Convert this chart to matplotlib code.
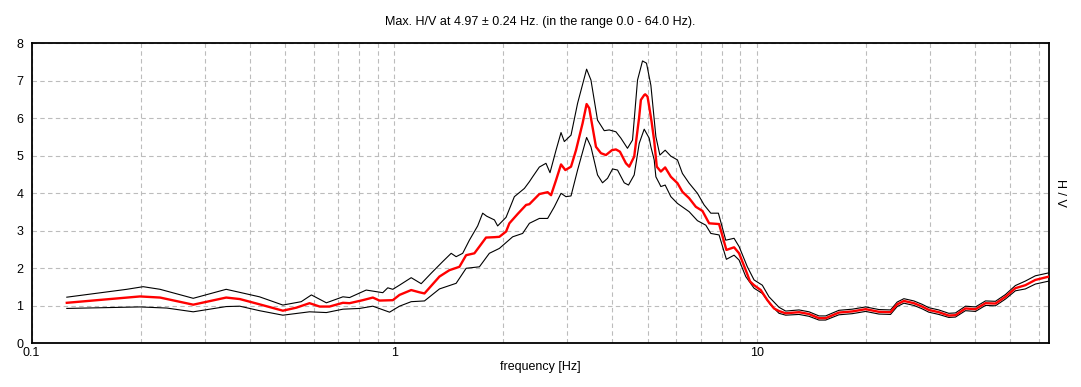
import matplotlib
matplotlib.use("Agg")
import matplotlib.pyplot as plt
from matplotlib.ticker import LogLocator, FixedLocator, FixedFormatter, NullFormatter

plt.rcParams['font.family'] = ['Liberation Sans', 'DejaVu Sans']

title = "Max. H/V at 4.97 \u00b1 0.24 Hz. (in the range 0.0 - 64.0 Hz)."
xlabel = "frequency [Hz]"
ylabel = "H / V"
x_ticks = [0.1, 1, 10]
x_tick_labels = ["0.1", "1", "10"]
y_ticks = [0, 1, 2, 3, 4, 5, 6, 7, 8]

# high-frequency shared grid
f_high = [11.52, 12.02, 13.08, 13.94, 14.85, 15.49, 16.85, 18.34, 19.97, 21.73, 23.39, 24.40,
          25.46, 27.13, 28.59, 29.83, 31.78, 33.86, 35.33, 37.65, 40.12, 42.75, 45.54, 48.53,
          51.69, 55.08, 58.68, 64.0]

# mean H/V (red)
f_mean = [0.125, 0.199, 0.226, 0.279, 0.344, 0.375, 0.425, 0.493, 0.537, 0.584, 0.623, 0.663,
          0.722, 0.753, 0.819, 0.873, 0.911, 0.991, 1.034, 1.114, 1.174, 1.212, 1.333, 1.420,
          1.513, 1.579, 1.664, 1.718, 1.792, 1.890, 1.950, 2.035, 2.078, 2.191, 2.311, 2.360,
          2.514, 2.650, 2.708, 2.795, 2.885, 2.965, 3.074, 3.173, 3.309, 3.394, 3.451, 3.602,
          3.718, 3.837, 3.986, 4.089, 4.194, 4.357, 4.449, 4.592, 4.740, 4.791, 4.893, 4.925,
          4.997, 5.051, 5.13, 5.214, 5.30, 5.439, 5.590, 5.796, 6.044, 6.237, 6.509, 6.792,
          7.083, 7.390, 7.873, 8.247, 8.659, 8.939, 9.326, 9.583, 9.831, 10.26, 10.70, 11.16] + f_high
hv_mean = [1.08, 1.25, 1.22, 1.03, 1.22, 1.18, 1.04, 0.87, 0.95, 1.07, 0.98, 0.98,
           1.08, 1.07, 1.15, 1.22, 1.14, 1.15, 1.29, 1.42, 1.36, 1.33, 1.78, 1.95,
           2.04, 2.35, 2.40, 2.58, 2.82, 2.83, 2.84, 2.98, 3.20, 3.45, 3.69, 3.71,
           3.98, 4.03, 3.95, 4.35, 4.77, 4.62, 4.71, 5.15, 5.87, 6.38, 6.27, 5.24,
           5.07, 5.02, 5.15, 5.17, 5.11, 4.80, 4.71, 4.98, 6.04, 6.49, 6.62, 6.64,
           6.58, 6.31, 5.90, 5.40, 4.71, 4.58, 4.69, 4.44, 4.27, 4.04, 3.87, 3.64,
           3.53, 3.20, 3.18, 2.49, 2.56, 2.40, 1.95, 1.65, 1.55, 1.42, 1.15, 0.93,
           0.86, 0.80, 0.83, 0.78, 0.67, 0.67, 0.82, 0.85, 0.91, 0.84, 0.83, 1.04,
           1.13, 1.07, 0.98, 0.89, 0.83, 0.74, 0.75, 0.93, 0.91, 1.07, 1.06, 1.24,
           1.47, 1.55, 1.69, 1.78]

# upper bound (black)
f_upper = [0.125, 0.183, 0.203, 0.226, 0.279, 0.344, 0.425, 0.493, 0.554, 0.591, 0.650, 0.722,
           0.753, 0.837, 0.930, 0.960, 0.991, 1.034, 1.114, 1.187, 1.265, 1.361, 1.436, 1.482,
           1.545, 1.612, 1.699, 1.754, 1.799, 1.890, 1.929, 2.035, 2.145, 2.286, 2.360, 2.409,
           2.514, 2.622, 2.690, 2.795, 2.885, 2.946, 3.074, 3.205, 3.394, 3.489, 3.638, 3.796,
           3.918, 4.089, 4.220, 4.400, 4.543, 4.690, 4.841, 4.965, 5.105, 5.270, 5.405, 5.590,
           5.796, 6.044, 6.237, 6.509, 6.862, 7.159, 7.470, 7.839, 8.214, 8.659, 8.939, 9.421,
           9.831, 10.36, 10.81] + f_high
hv_upper = [1.23, 1.44, 1.51, 1.44, 1.20, 1.44, 1.24, 1.02, 1.11, 1.29, 1.08, 1.24,
            1.22, 1.42, 1.35, 1.48, 1.44, 1.55, 1.75, 1.59, 1.87, 2.18, 2.40, 2.31,
            2.40, 2.75, 3.13, 3.47, 3.39, 3.29, 3.13, 3.36, 3.91, 4.13, 4.31, 4.44,
            4.70, 4.80, 4.55, 5.15, 5.62, 5.38, 5.55, 6.40, 7.31, 7.02, 5.95, 5.67,
            5.69, 5.64, 5.47, 5.20, 5.42, 7.02, 7.53, 7.47, 6.88, 5.51, 5.02, 5.15,
            4.99, 4.89, 4.53, 4.27, 4.00, 3.69, 3.47, 3.47, 2.75, 2.80, 2.58, 2.04,
            1.69, 1.55, 1.24,
            0.96, 0.86, 0.89, 0.84, 0.73, 0.73, 0.88, 0.91, 0.97, 0.90, 0.89, 1.10,
            1.19, 1.13, 1.04, 0.95, 0.89, 0.80, 0.81, 0.99, 0.97, 1.13, 1.12, 1.30,
            1.54, 1.66, 1.80, 1.88]

# lower bound (black)
f_lower = [0.125, 0.199, 0.236, 0.279, 0.344, 0.375, 0.425, 0.493, 0.584, 0.650, 0.722, 0.803,
           0.873, 0.971, 1.034, 1.114, 1.212, 1.333, 1.482, 1.579, 1.718, 1.830, 1.950, 2.122,
           2.261, 2.360, 2.514, 2.650, 2.765, 2.885, 2.977, 3.074, 3.205, 3.394, 3.489, 3.638,
           3.755, 3.877, 4.002, 4.131, 4.310, 4.429, 4.592, 4.740, 4.893, 5.051, 5.105, 5.214,
           5.270, 5.382, 5.439, 5.590, 5.796, 6.044, 6.509, 6.862, 7.237, 7.470, 7.873, 8.247,
           8.659, 8.939, 9.326, 9.831, 10.36, 10.93] + f_high
hv_lower = [0.93, 0.97, 0.94, 0.84, 0.98, 0.99, 0.87, 0.75, 0.84, 0.82, 0.91, 0.93,
            0.99, 0.83, 0.99, 1.11, 1.13, 1.45, 1.60, 2.00, 2.04, 2.40, 2.53, 2.84,
            2.93, 3.20, 3.33, 3.33, 3.64, 4.00, 3.91, 3.93, 4.62, 5.49, 5.24, 4.49,
            4.28, 4.40, 4.65, 4.62, 4.28, 4.22, 4.49, 5.33, 5.71, 5.47, 5.24, 4.89,
            4.44, 4.27, 4.18, 4.22, 3.91, 3.73, 3.51, 3.27, 3.15, 2.93, 2.89, 2.24,
            2.35, 2.22, 1.78, 1.47, 1.33, 1.02,
            0.80, 0.75, 0.77, 0.72, 0.62, 0.62, 0.76, 0.79, 0.85, 0.78, 0.77, 0.98,
            1.07, 1.01, 0.92, 0.83, 0.77, 0.69, 0.70, 0.87, 0.85, 1.01, 1.00, 1.18,
            1.40, 1.45, 1.58, 1.66]

fig = plt.figure(figsize=(10.81, 3.87), dpi=100)
ax = fig.add_axes([0.0293, 0.1129, 0.9411, 0.7752])

ax.plot(f_upper, hv_upper, color='black', lw=0.8, zorder=3)
ax.plot(f_lower, hv_lower, color='black', lw=0.8, zorder=3)
ax.plot(f_mean, hv_mean, color='#ff0000', lw=1.7, zorder=4)

ax.set_xscale('log')
ax.set_xlim(0.1, 64.0)
ax.set_ylim(0, 8)

ax.xaxis.set_major_locator(FixedLocator(x_ticks))
ax.xaxis.set_major_formatter(FixedFormatter(x_tick_labels))
ax.xaxis.set_minor_locator(LogLocator(base=10, subs=range(2, 10), numticks=20))
ax.xaxis.set_minor_formatter(NullFormatter())
ax.set_yticks(y_ticks)
ax.set_yticklabels([str(v) for v in y_ticks])

ax.tick_params(axis='both', which='both', length=0, labelsize=9, colors='black')
ax.tick_params(axis='y', pad=6)
ax.tick_params(axis='x', pad=3)

ax.set_axisbelow(True)
ax.grid(True, which='both', axis='x', color='#bcbcbc', linestyle=(0, (4, 3)), lw=0.8)
ax.grid(True, which='major', axis='y', color='#bcbcbc', linestyle=(0, (4, 3)), lw=0.8)

for s in ax.spines.values():
    s.set_color('black')
    s.set_linewidth(1.3)

ax.set_title(title, fontsize=9, pad=13)
ax.set_xlabel(xlabel, fontsize=9, labelpad=1)
ax.yaxis.set_label_position('right')
ax.set_ylabel(ylabel, fontsize=9, rotation=270, labelpad=12)

fig.savefig('out.png', dpi=100)
